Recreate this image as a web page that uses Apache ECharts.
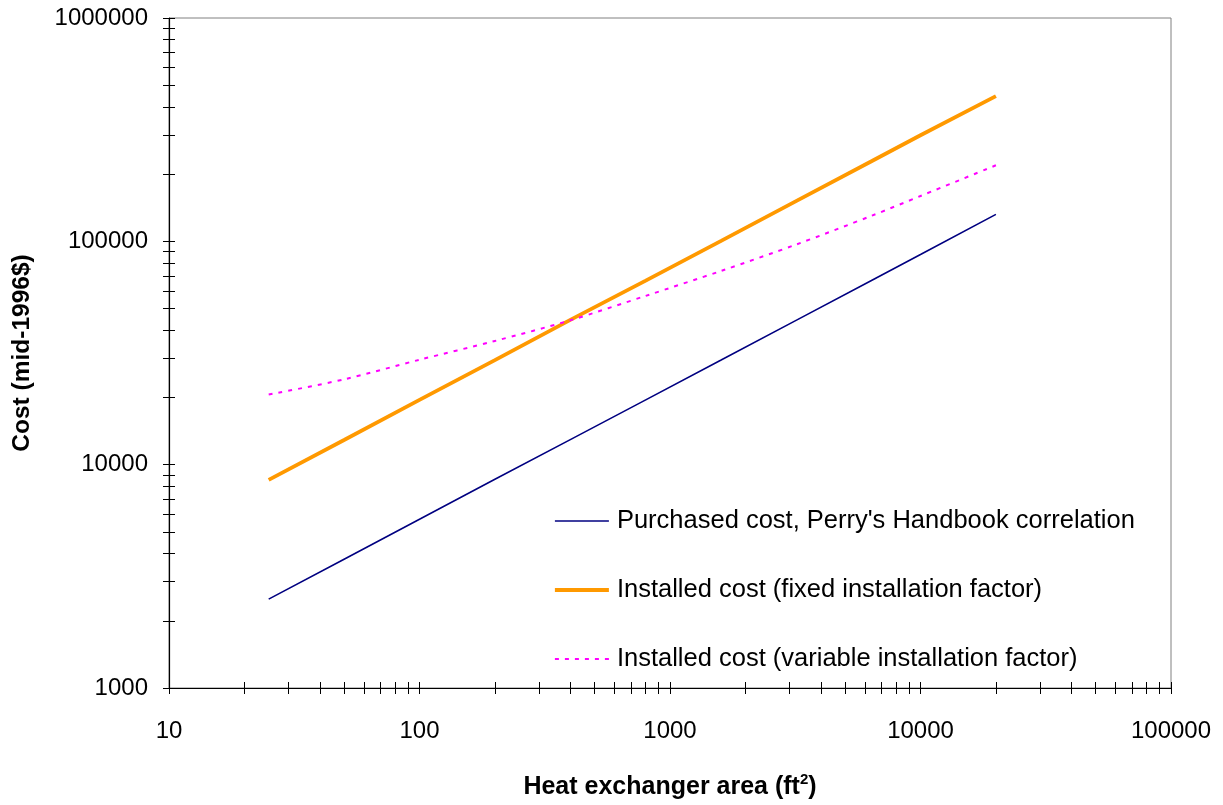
<!DOCTYPE html>
<html>
<head>
<meta charset="utf-8">
<script src="https://cdn.jsdelivr.net/npm/echarts@6/dist/echarts.min.js"></script>
<style>
html,body{margin:0;padding:0;background:#fff;}
#chart{width:1223px;height:805px;}
</style>
</head>
<body>
<div id="chart"></div>
<script>
// Heat exchanger area (ft^2)
const areas = [25, 50, 100, 200, 400, 800, 1600, 3200, 6400, 10000, 20000];
// Purchased cost, Perry's Handbook correlation
const purchasedCost = [2500, 3770, 5700, 8600, 12950, 19500, 29400, 44400, 67000, 87300, 132000];
// Installed cost (fixed installation factor)
const installedFixed = [8550, 12900, 19500, 29400, 44500, 66700, 100500, 151800, 229000, 298600, 447000];
// Installed cost (variable installation factor)
const installedVariable = [20600, 24100, 29500, 35800, 44300, 57000, 73700, 96900, 130300, 159600, 219000];

const seriesNames = [
  "Purchased cost, Perry's Handbook correlation",
  "Installed cost (fixed installation factor)",
  "Installed cost (variable installation factor)"
];
const seriesColors = ['#000080', '#FF9900', '#FF00FF'];

const xTickLabels = [10, 100, 1000, 10000, 100000];
const yTickLabels = [1000, 10000, 100000, 1000000];

function withMinors(decades) {
  const out = [];
  for (let i = 0; i < decades.length; i++) {
    out.push(decades[i]);
    if (i < decades.length - 1) {
      for (let k = 2; k <= 9; k++) out.push(decades[i] * k);
    }
  }
  return out;
}
const xTicksAll = withMinors(xTickLabels);
const yTicksAll = withMinors(yTickLabels);

const FONT = '"Liberation Sans", Arial, sans-serif';

const chart = echarts.init(document.getElementById('chart'), null, {renderer: 'canvas'});

function pairs(xs, ys) { return xs.map((x, i) => [x, ys[i]]); }

const xBase = {
  type: 'log', logBase: 10, min: 10, max: 100000, gridIndex: 0, position: 'bottom',
  splitLine: {show: false}, minorTick: {show: false}, minorSplitLine: {show: false}
};
const yBase = {
  type: 'log', logBase: 10, min: 1000, max: 1000000, gridIndex: 0, position: 'left',
  splitLine: {show: false}, minorTick: {show: false}, minorSplitLine: {show: false}
};

const lineStyles = [
  {color: seriesColors[0], width: 1.6, type: 'solid'},
  {color: seriesColors[1], width: 3.8, type: 'solid'},
  {color: seriesColors[2], width: 2, type: [4, 6]}
];

const option = {
  backgroundColor: '#ffffff',
  animation: false,
  textStyle: {fontFamily: FONT},
  grid: {
    left: 169, right: 52, top: 18, bottom: 117,
    show: true, borderColor: '#808080', borderWidth: 1, backgroundColor: 'transparent'
  },
  legend: {
    orient: 'vertical',
    left: 548, top: 503,
    itemWidth: 54, itemHeight: 22,
    itemGap: 43,
    itemStyle: {opacity: 0},
    data: seriesNames.map((n, i) => ({name: n, lineStyle: lineStyles[i]})),
    textStyle: {fontFamily: FONT, fontSize: 25.5, color: '#000', padding: [0, 0, 0, 3]},
    selectedMode: false
  },
  xAxis: [
    Object.assign({}, xBase, {
      name: '{t|Heat exchanger area (ft}{s|2}{t|)}',
      nameLocation: 'middle', nameGap: 84,
      nameTextStyle: {
        rich: {
          t: {fontFamily: FONT, fontSize: 25, fontWeight: 'bold', color: '#000', lineHeight: 30},
          s: {fontFamily: FONT, fontSize: 15, fontWeight: 'bold', color: '#000', verticalAlign: 'top'}
        }
      },
      axisLine: {show: true, onZero: false, lineStyle: {color: '#000', width: 1.2}},
      axisTick: {show: true, inside: false, length: 6, customValues: xTicksAll, lineStyle: {color: '#000', width: 1}},
      axisLabel: {show: true, margin: 31, customValues: xTickLabels, fontFamily: FONT, fontSize: 24, color: '#000',
        formatter: v => String(Math.round(v))}
    }),
    Object.assign({}, xBase, {
      axisLine: {show: false},
      axisTick: {show: true, inside: true, length: 6, customValues: xTicksAll, lineStyle: {color: '#000', width: 1}},
      axisLabel: {show: false}
    })
  ],
  yAxis: [
    Object.assign({}, yBase, {
      name: 'Cost (mid-1996$)',
      nameLocation: 'middle', nameGap: 134, nameRotate: 90,
      nameTextStyle: {fontFamily: FONT, fontSize: 24.5, fontWeight: 'bold', color: '#000'},
      axisLine: {show: true, onZero: false, lineStyle: {color: '#000', width: 1.2}},
      axisTick: {show: true, inside: false, length: 6, customValues: yTicksAll, lineStyle: {color: '#000', width: 1}},
      axisLabel: {show: true, margin: 21, customValues: yTickLabels, fontFamily: FONT, fontSize: 24, color: '#000',
        formatter: v => String(Math.round(v))}
    }),
    Object.assign({}, yBase, {
      axisLine: {show: false},
      axisTick: {show: true, inside: true, length: 6, customValues: yTicksAll, lineStyle: {color: '#000', width: 1}},
      axisLabel: {show: false}
    })
  ],
  series: [
    {
      name: seriesNames[0], type: 'line', xAxisIndex: 0, yAxisIndex: 0,
      data: pairs(areas, purchasedCost), symbol: 'none', showSymbol: false,
      color: seriesColors[0],
      lineStyle: lineStyles[0]
    },
    {
      name: seriesNames[1], type: 'line', xAxisIndex: 0, yAxisIndex: 0,
      data: pairs(areas, installedFixed), symbol: 'none', showSymbol: false,
      color: seriesColors[1],
      lineStyle: lineStyles[1]
    },
    {
      name: seriesNames[2], type: 'line', xAxisIndex: 0, yAxisIndex: 0,
      data: pairs(areas, installedVariable), symbol: 'none', showSymbol: false,
      smooth: 0.3,
      color: seriesColors[2],
      lineStyle: lineStyles[2]
    }
  ]
};

chart.setOption(option);
</script>
</body>
</html>
